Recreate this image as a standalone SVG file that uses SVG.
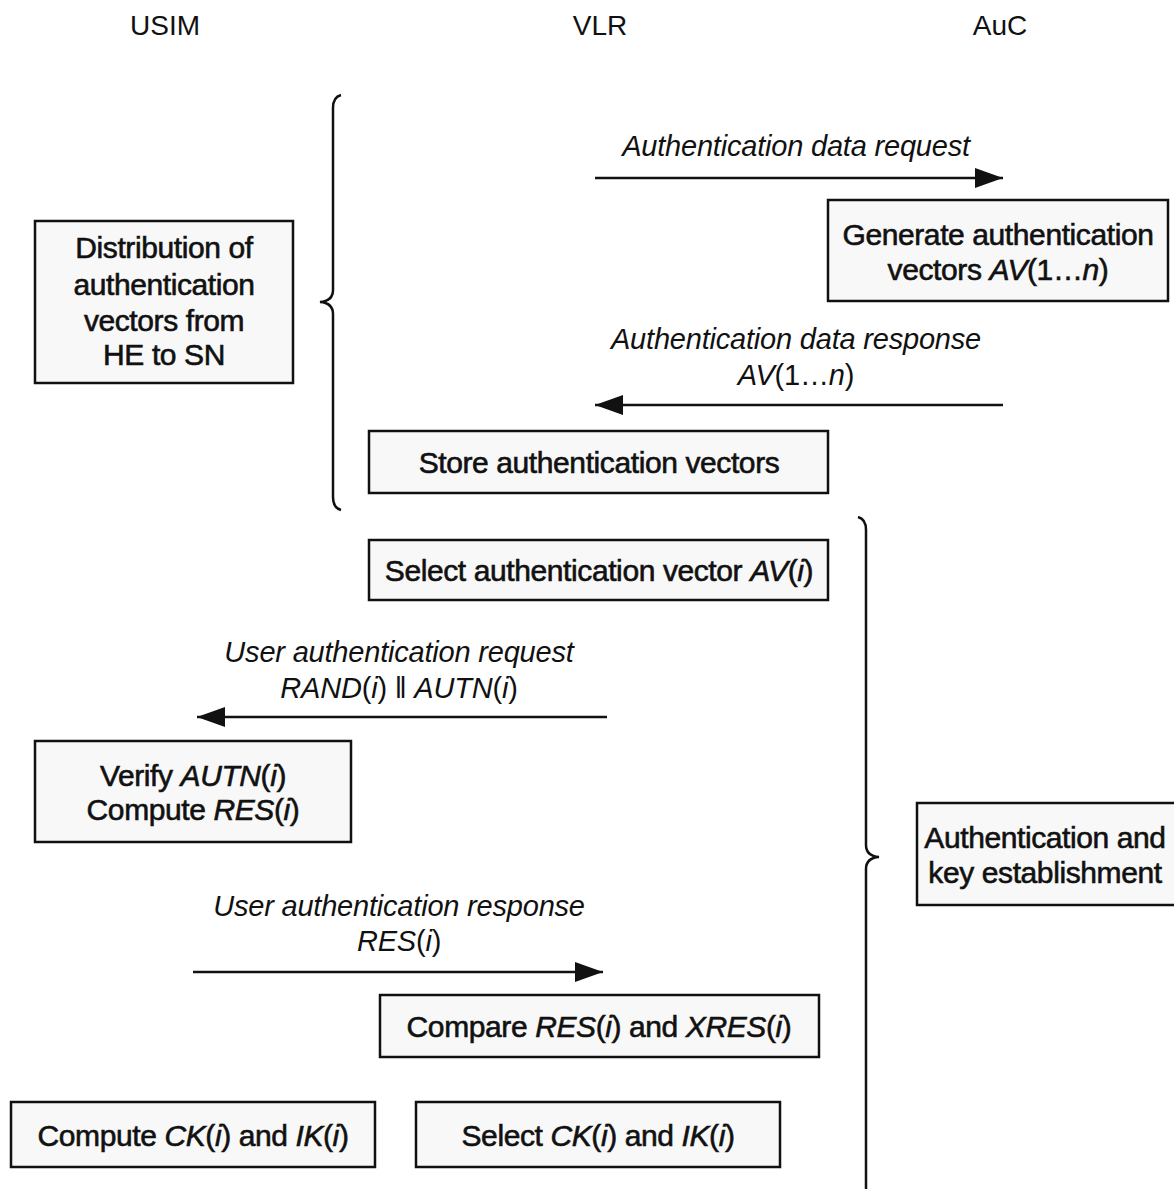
<svg xmlns="http://www.w3.org/2000/svg" width="1174" height="1189" viewBox="0 0 1174 1189">
  <style>
    .hdr { font-family: "Liberation Sans", Arial, sans-serif; font-size: 28px; fill: #111; text-anchor: middle; }
    .box { fill: #f8f8f8; stroke: #111; stroke-width: 2.5; }
    .txt { font-family: "Liberation Sans", Arial, sans-serif; font-size: 30px; fill: #111; stroke: #111; stroke-width: 0.6; text-anchor: middle; letter-spacing: -0.4px; }
    .lbl { font-family: "Liberation Sans", Arial, sans-serif; font-size: 29px; font-style: italic; fill: #111; text-anchor: middle; letter-spacing: -0.2px; }
    .wire { stroke: #111; stroke-width: 2.5; fill: none; }
    .brace { stroke: #111; stroke-width: 2.5; fill: none; }
    .it { font-style: italic; }
    .up { font-style: normal; }
  </style>
  <defs>
    <marker id="head" markerUnits="userSpaceOnUse" markerWidth="30" markerHeight="24" refX="28" refY="12" orient="auto">
      <path d="M0,2 L28,12 L0,22 Z" fill="#111"/>
    </marker>
  </defs>

  <rect width="1174" height="1189" fill="#ffffff"/>

  <!-- entity headings -->
  <g id="headings">
    <text class="hdr" x="165" y="35">USIM</text>
    <text class="hdr" x="600" y="35">VLR</text>
    <text class="hdr" x="1000" y="35">AuC</text>
  </g>

  <!-- phase braces -->
  <g id="braces">
    <path class="brace" d="M341,95 Q333,97 333,108 L333,290 Q333,301 320,302 Q333,303 333,314 L333,497 Q333,508 341,510"/>
    <path class="brace" d="M858,517 Q866,519 866,530 L866,845 Q866,856 879,857 Q866,858 866,869 L866,1189"/>
  </g>

  <!-- message arrows -->
  <g id="connectors">
    <line class="wire" x1="595" y1="178" x2="1003" y2="178" marker-end="url(#head)"/>
    <line class="wire" x1="1003" y1="405" x2="595" y2="405" marker-end="url(#head)"/>
    <line class="wire" x1="607" y1="717" x2="197" y2="717" marker-end="url(#head)"/>
    <line class="wire" x1="193" y1="972" x2="603" y2="972" marker-end="url(#head)"/>
  </g>

  <!-- message labels -->
  <g id="labels">
    <text class="lbl" x="796" y="156">Authentication data request</text>
    <text class="lbl" x="796" y="349">Authentication data response</text>
    <text class="lbl" x="796" y="385"><tspan>AV</tspan><tspan class="up">(1…</tspan><tspan>n</tspan><tspan class="up">)</tspan></text>
    <text class="lbl" x="399" y="662">User authentication request</text>
    <text class="lbl" x="399" y="698">RAND<tspan class="up">(</tspan>i<tspan class="up">) ‖ </tspan>AUTN<tspan class="up">(</tspan>i<tspan class="up">)</tspan></text>
    <text class="lbl" x="399" y="916">User authentication response</text>
    <text class="lbl" x="399" y="951">RES<tspan class="up">(</tspan>i<tspan class="up">)</tspan></text>
  </g>

  <g id="distribution">
    <rect class="box" x="35" y="221" width="258" height="162"/>
    <text class="txt" x="164" y="258">Distribution of</text>
    <text class="txt" x="164" y="295">authentication</text>
    <text class="txt" x="164" y="331">vectors from</text>
    <text class="txt" x="164" y="365">HE to SN</text>
  </g>

  <g id="generate">
    <rect class="box" x="828" y="200" width="340" height="101"/>
    <text class="txt" x="998" y="245">Generate authentication</text>
    <text class="txt" x="998" y="280">vectors <tspan class="it">AV</tspan>(1…<tspan class="it">n</tspan>)</text>
  </g>

  <g id="store">
    <rect class="box" x="369" y="431" width="459" height="62"/>
    <text class="txt" x="599" y="473">Store authentication vectors</text>
  </g>

  <g id="select-av">
    <rect class="box" x="369" y="540" width="459" height="60"/>
    <text class="txt" x="599" y="581">Select authentication vector <tspan class="it">AV</tspan>(<tspan class="it">i</tspan>)</text>
  </g>

  <g id="verify">
    <rect class="box" x="35" y="741" width="316" height="101"/>
    <text class="txt" x="193" y="786">Verify <tspan class="it">AUTN</tspan>(<tspan class="it">i</tspan>)</text>
    <text class="txt" x="193" y="820">Compute <tspan class="it">RES</tspan>(<tspan class="it">i</tspan>)</text>
  </g>

  <g id="auth-key">
    <rect class="box" x="917" y="803" width="260" height="102"/>
    <text class="txt" x="1045" y="848">Authentication and</text>
    <text class="txt" x="1045" y="883">key establishment</text>
  </g>

  <g id="compare">
    <rect class="box" x="380" y="995" width="439" height="62"/>
    <text class="txt" x="599" y="1037">Compare <tspan class="it">RES</tspan>(<tspan class="it">i</tspan>) and <tspan class="it">XRES</tspan>(<tspan class="it">i</tspan>)</text>
  </g>

  <g id="compute-keys">
    <rect class="box" x="11" y="1102" width="364" height="65"/>
    <text class="txt" x="193" y="1146">Compute <tspan class="it">CK</tspan>(<tspan class="it">i</tspan>) and <tspan class="it">IK</tspan>(<tspan class="it">i</tspan>)</text>
  </g>

  <g id="select-keys">
    <rect class="box" x="416" y="1102" width="364" height="65"/>
    <text class="txt" x="598" y="1146">Select <tspan class="it">CK</tspan>(<tspan class="it">i</tspan>) and <tspan class="it">IK</tspan>(<tspan class="it">i</tspan>)</text>
  </g>
</svg>
